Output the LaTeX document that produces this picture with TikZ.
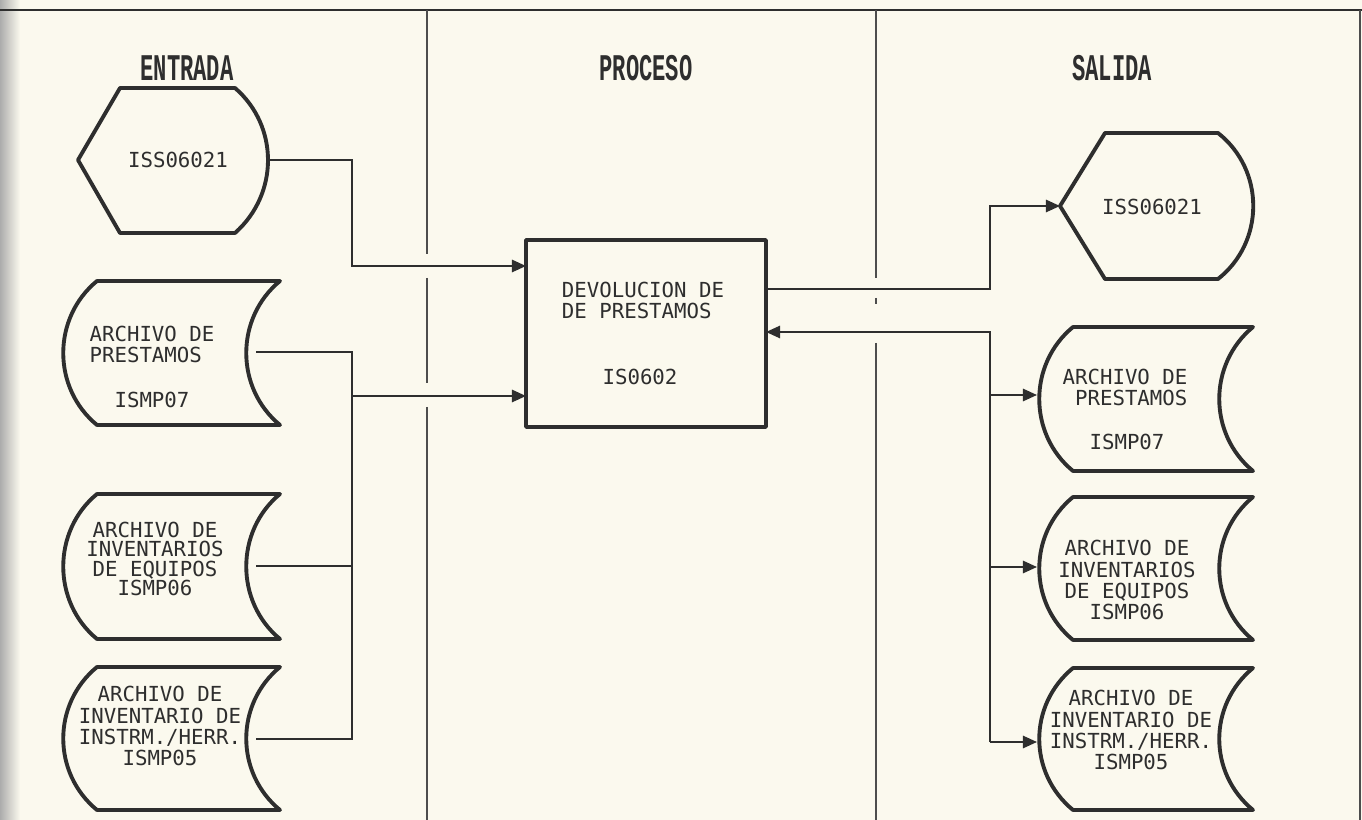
\documentclass[tikz,border=0pt]{standalone}
\usepackage{fontspec}
\newfontfamily\dmfont{DejaVu Sans Mono}
\newfontfamily\hdfont{Liberation Mono}
\usetikzlibrary{arrows.meta}
\definecolor{paper}{HTML}{FBF9EE}
\definecolor{ink}{HTML}{2E2E2E}
\tikzset{
  shp/.style={draw=ink, line width=2.2pt, line join=round},
  conn/.style={draw=ink, line width=1.1pt},
  arr/.style={conn, -{Triangle[length=8pt,width=7pt]}},
  divider/.style={draw=ink!85, line width=0.85pt},
  lbl/.style={text=ink, font=\dmfont\fontsize{11.8}{12}\selectfont, inner sep=0pt, align=center},
  lbltight/.style={lbl, font=\dmfont\fontsize{11.8}{11}\selectfont},
  hdr/.style={text=ink, font=\hdfont\bfseries\fontsize{12.6}{14}\selectfont, inner sep=0pt},
}
\newcommand\docpath[4]{%
  \draw[shp] (#1,#3) -- (#2,#3)
    .. controls ({#2-45},{#3+37}) and ({#2-45},{#4-37}) .. (#2,#4)
    -- (#1,#4)
    .. controls ({#1-45},{#4-37}) and ({#1-45},{#3+37}) .. cycle;}
\begin{document}
\begin{tikzpicture}[x=0.02cm,y=-0.02cm]
\fill[paper] (0,0) rectangle (1362,820);
\shade[left color=gray!65, right color=paper] (0,0) rectangle (20,820);
\useasboundingbox (0,0) rectangle (1362,820);

% frame and column dividers
\draw[conn] (0,10) -- (1362,10);
\draw[divider] (1360,10) -- (1360,820);
\draw[divider] (427,10) -- (427,254);
\draw[divider] (427,278) -- (427,383);
\draw[divider] (427,407) -- (427,820);
\draw[divider] (876,10) -- (876,278);
\draw[divider] (876,298) -- (876,304);
\draw[divider] (876,343) -- (876,820);

% headers
\node[hdr] (hE) at (187,68) {\scalebox{1}[1.7]{ENTRADA}};
\node[hdr] (hP) at (646,68) {\scalebox{1}[1.7]{PROCESO}};
\node[hdr] (hS) at (1112,68) {\scalebox{1}[1.7]{SALIDA}};

% ENTRADA: display symbol
\draw[shp] (78,160) -- (120,88) -- (235,88)
  .. controls (279,126) and (279,194) .. (235,233) -- (120,233) -- cycle;
\node[lbl] (e0) at (178,160) {ISS06021};
\coordinate (e0r) at (268,160);

% ENTRADA: files
\docpath{97}{280}{281}{425}
\node[lbl, align=left] (d1a) at (152,344) {ARCHIVO DE\\PRESTAMOS};
\node[lbl] (d1b) at (152,400) {ISMP07};
\coordinate (d1r) at (256,352);

\docpath{97}{280}{494}{639}
\node[lbltight] (d2) at (155,559) {ARCHIVO DE\\INVENTARIOS\\DE EQUIPOS\\ISMP06};
\coordinate (d2r) at (256,566);

\docpath{97}{280}{667}{810}
\node[lbl] (d3) at (160,726) {ARCHIVO DE\\INVENTARIO DE\\INSTRM./HERR.\\ISMP05};
\coordinate (d3r) at (256,739);

% PROCESO
\node[shp, minimum width=4.8cm, minimum height=3.74cm, inner sep=0pt] (p) at (646,333.5) {};
\node[lbl, align=left] (p1) at (643,300) {DEVOLUCION DE\\DE PRESTAMOS};
\node[lbl] (p2) at (640,377) {IS0602};
\coordinate (pin1) at (526,266);
\coordinate (pin2) at (526,396);
\coordinate (pout) at (766,289);
\coordinate (pret) at (766,332);

% SALIDA: display symbol
\draw[shp] (1060,206) -- (1105,133) -- (1218,133)
  .. controls (1265,170) and (1265,242) .. (1218,279) -- (1105,279) -- cycle;
\node[lbl] (s0) at (1152,207) {ISS06021};
\coordinate (s0l) at (1060,206);

% SALIDA: files
\docpath{1073}{1253}{327}{471}
\node[lbl, align=left] (r1a) at (1125,387) {ARCHIVO DE\\\ PRESTAMOS};
\node[lbl] (r1b) at (1127,442) {ISMP07};
\coordinate (r1l) at (1037,395);

\docpath{1073}{1253}{497}{640}
\node[lbl] (r2) at (1127,580) {ARCHIVO DE\\INVENTARIOS\\DE EQUIPOS\\ISMP06};
\coordinate (r2l) at (1037,567);

\docpath{1073}{1253}{668}{810}
\node[lbl] (r3) at (1131,730) {ARCHIVO DE\\INVENTARIO DE\\INSTRM./HERR.\\ISMP05};
\coordinate (r3l) at (1037,742);

% buses
\coordinate (bL) at (352,0);
\coordinate (bR) at (990,0);

% connectors: entrada -> proceso
\draw[arr] (e0r) -- (bL |- e0r) -- (bL |- pin1) -- (pin1);
\draw[conn] (d1r) -- (bL |- d1r) -- (bL |- d3r) -- (d3r);
\draw[conn] (d2r) -- (bL |- d2r);
\draw[arr] (bL |- pin2) -- (pin2);

% connectors: proceso -> salida
\draw[arr] (pout) -- (bR |- pout) -- (bR |- s0l) -- (s0l);
\draw[arr] (bR |- r3l) -- (bR |- pret) -- (pret);
\draw[arr] (bR |- r1l) -- (r1l);
\draw[arr] (bR |- r2l) -- (r2l);
\draw[arr] (bR |- r3l) -- (r3l);
\end{tikzpicture}
\end{document}
